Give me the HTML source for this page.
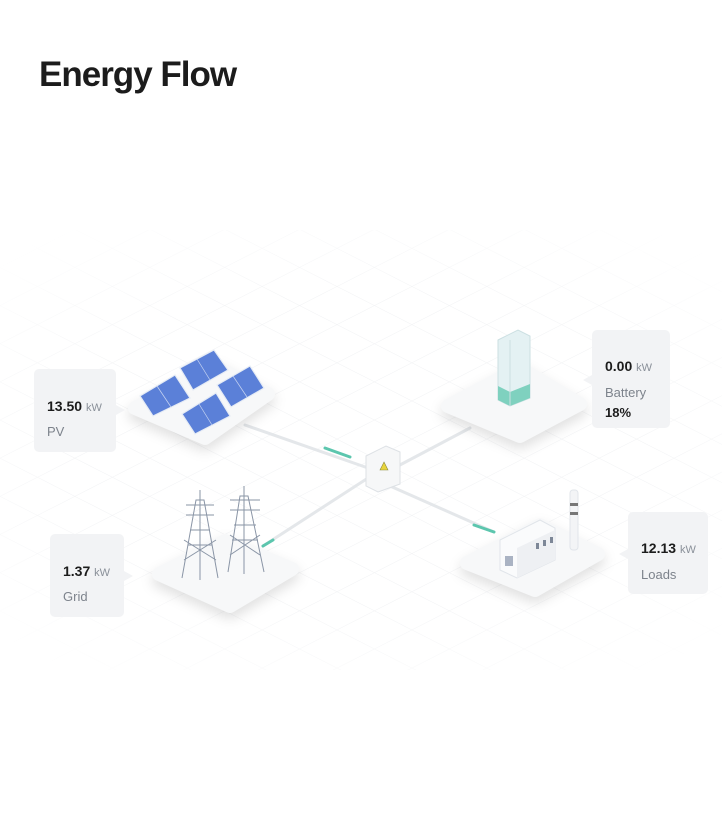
<!DOCTYPE html>
<html><head><meta charset="utf-8"><style>
body{margin:0;background:#fff;width:722px;height:825px;overflow:hidden;font-family:"Liberation Sans",sans-serif}
</style></head><body>
<svg width="722" height="825" viewBox="0 0 722 825" xmlns="http://www.w3.org/2000/svg" style="position:absolute;left:0;top:0">
<defs>
<pattern id="g1" width="34" height="34" patternUnits="userSpaceOnUse" patternTransform="rotate(-27)">
<path d="M0 0H34" stroke="#f1f2f4" stroke-width="1" fill="none"/>
</pattern>
<pattern id="g2" width="34" height="34" patternUnits="userSpaceOnUse" patternTransform="rotate(27)">
<path d="M0 0H34" stroke="#f1f2f4" stroke-width="1" fill="none"/>
</pattern>
<radialGradient id="fade" cx="50%" cy="50%" r="55%"><stop offset="55%" stop-color="#fff" stop-opacity="0"/><stop offset="100%" stop-color="#fff" stop-opacity="1"/></radialGradient>
</defs>
<text x="39" y="86" font-size="35" font-weight="bold" fill="#1c1c1c" letter-spacing="-1">Energy Flow</text>
<rect x="0" y="230" width="722" height="440" fill="url(#g1)"/>
<rect x="0" y="230" width="722" height="440" fill="url(#g2)"/>
<rect x="-100" y="200" width="922" height="500" fill="url(#fade)"/>
<g stroke-width="3" fill="none" stroke-linecap="round">
<line x1="245" y1="425" x2="368" y2="468" stroke="#e4e7ea"/>
<line x1="325" y1="448" x2="350" y2="457" stroke="#5cc6ae"/>
<line x1="263" y1="546" x2="368" y2="478" stroke="#e4e7ea"/>
<line x1="263" y1="546" x2="273" y2="540" stroke="#5cc6ae"/>
<line x1="470" y1="428" x2="398" y2="466" stroke="#e4e7ea"/>
<line x1="390" y1="486" x2="494" y2="532" stroke="#e4e7ea"/>
<line x1="474" y1="525" x2="494" y2="532" stroke="#5cc6ae"/>
</g>
<g fill="#f7f8f9" stroke="#f7f8f9" stroke-width="14" stroke-linejoin="round" style="filter:drop-shadow(0 6px 6px rgba(0,0,0,.12))">
<polygon points="135,408 215,366 268,394 205,438"/>
<polygon points="448,406 520,368 580,404 520,436"/>
<polygon points="159,574 225,541 292,569 230,606"/>
<polygon points="467,563 540,525 598,554 535,590"/>
</g>
<g fill="#5b80d8" stroke="#e6ecf5" stroke-width="1.2">
<polygon points="140,396 175,375 190,398 153,416"/>
<polygon points="180,368 214,350 228,370 193,390"/>
<polygon points="182,414 216,393 230,416 195,434"/>
<polygon points="217,385 250,366 264,388 231,407"/>
</g>
<g stroke="#c9d6f2" stroke-width=".7">
<line x1="157" y1="386" x2="171" y2="407"/><line x1="197" y1="359" x2="210" y2="380"/>
<line x1="199" y1="404" x2="212" y2="425"/><line x1="233" y1="376" x2="247" y2="397"/>
</g>
<polygon points="498,340 518,330 530,336 530,398 510,406 498,400" fill="#e4f1f3" stroke="#cbdfe2"/>
<polygon points="498,386 510,392 530,384 530,398 510,406 498,400" fill="#7fd1bf"/>
<line x1="510" y1="340" x2="510" y2="406" stroke="#cbdfe2"/>
<g stroke="#8a95a6" stroke-width="1" fill="none">
<path d="M182 578 L196 500 L204 500 L218 578 M188 545 H212 M190 530 H210 M186 515 H214 M186 505 H214 M200 490 V580 M184 560 L216 540 M216 560 L184 540"/>
<path d="M228 572 L240 496 L248 496 L264 572 M232 540 H258 M234 525 H256 M230 510 H260 M230 500 H260 M244 486 V574 M230 555 L260 535 M260 555 L230 535"/>
</g>
<polygon points="500,540 540,520 555,528 555,560 517,578 500,570" fill="#fafbfc" stroke="#e1e5ea"/>
<polygon points="517,548 555,530 555,560 517,578" fill="#eef0f3"/>
<rect x="570" y="490" width="8" height="60" rx="3" fill="#f3f4f6" stroke="#e1e5ea"/>
<rect x="570" y="503" width="8" height="3" fill="#777"/><rect x="570" y="512" width="8" height="3" fill="#777"/>
<g fill="#7d8797"><rect x="536" y="543" width="3" height="6"/><rect x="543" y="540" width="3" height="6"/><rect x="550" y="537" width="3" height="6"/><rect x="505" y="556" width="8" height="10" fill="#aab3c3"/></g>
<polygon points="366,456 386,446 400,452 400,484 378,492 366,486" fill="#f6f7f8" stroke="#dde1e5"/>
<polygon points="384,462 388,470 380,470" fill="#e8d43c" stroke="#8a8a3a" stroke-width=".6"/>
<g fill="#f2f3f5">
<rect x="34" y="369" width="82" height="83" rx="5"/><polygon points="116,405 125,410 116,415"/>
<rect x="592" y="330" width="78" height="98" rx="5"/><polygon points="592,375 583,380 592,385"/>
<rect x="50" y="534" width="74" height="83" rx="5"/><polygon points="124,571 133,576 124,581"/>
<rect x="628" y="512" width="80" height="82" rx="5"/><polygon points="628,549 619,554 628,559"/>
</g>
<g font-size="13">
<text x="47" y="411" font-weight="bold" fill="#1c1c1c" font-size="14">13.50 <tspan font-weight="normal" font-size="11" fill="#8a9099">kW</tspan></text>
<text x="47" y="436" fill="#7d838c">PV</text>
<text x="605" y="371" font-weight="bold" fill="#1c1c1c" font-size="14">0.00 <tspan font-weight="normal" font-size="11" fill="#8a9099">kW</tspan></text>
<text x="605" y="397" fill="#7d838c">Battery</text>
<text x="605" y="417" font-weight="bold" fill="#1c1c1c">18%</text>
<text x="63" y="576" font-weight="bold" fill="#1c1c1c" font-size="14">1.37 <tspan font-weight="normal" font-size="11" fill="#8a9099">kW</tspan></text>
<text x="63" y="601" fill="#7d838c">Grid</text>
<text x="641" y="553" font-weight="bold" fill="#1c1c1c" font-size="14">12.13 <tspan font-weight="normal" font-size="11" fill="#8a9099">kW</tspan></text>
<text x="641" y="579" fill="#7d838c">Loads</text>
</g>
</svg>
</body></html>
